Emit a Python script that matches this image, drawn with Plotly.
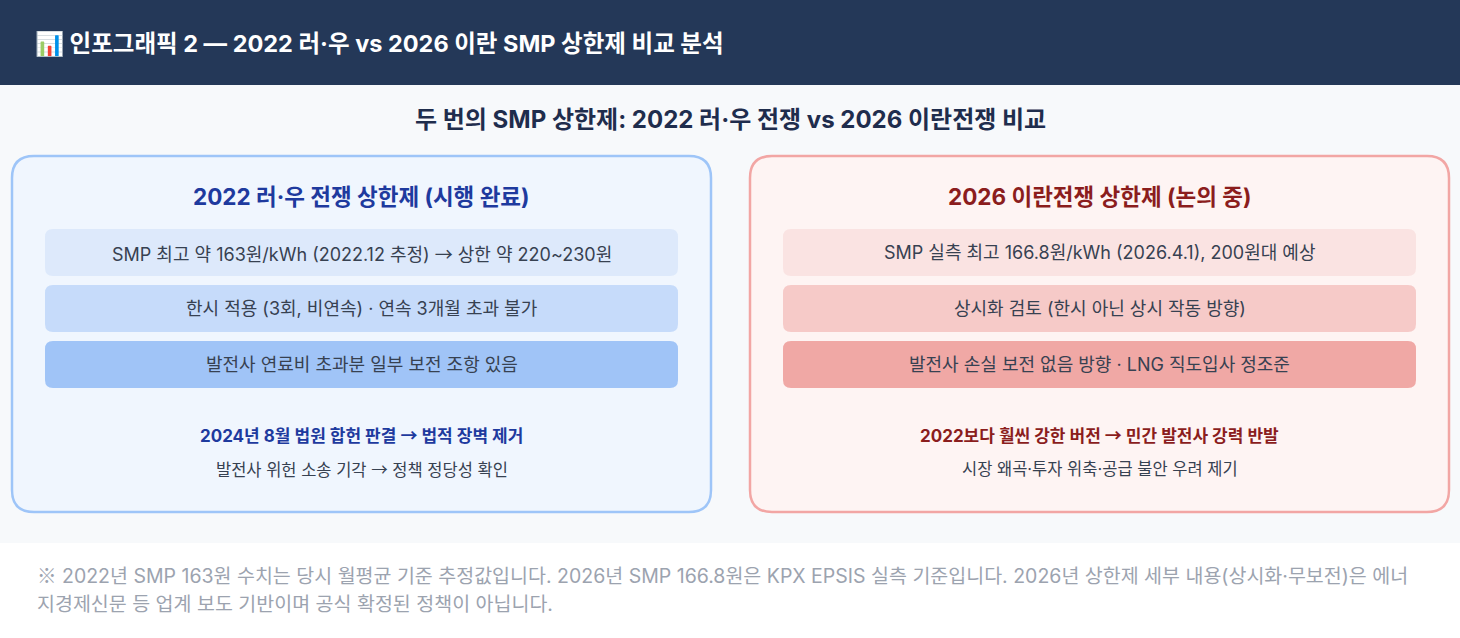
import plotly.graph_objects as go

W, H = 1460, 638
FONT = "Inter, Noto Sans CJK KR"

header_title = "📊 인포그래픽 2 — 2022 러·우 vs 2026 이란 SMP 상한제 비교 분석"
main_title = "두 번의 SMP 상한제: 2022 러·우 전쟁 vs 2026 이란전쟁 비교"

card_titles = ["2022 러·우 전쟁 상한제 (시행 완료)", "2026 이란전쟁 상한제 (논의 중)"]
card_rows = [
    ["SMP 최고 약 163원/kWh (2022.12 추정) → 상한 약 220~230원",
     "한시 적용 (3회, 비연속) · 연속 3개월 초과 불가",
     "발전사 연료비 초과분 일부 보전 조항 있음"],
    ["SMP 실측 최고 166.8원/kWh (2026.4.1), 200원대 예상",
     "상시화 검토 (한시 아닌 상시 작동 방향)",
     "발전사 손실 보전 없음 방향 · LNG 직도입사 정조준"],
]
card_notes = [
    "2024년 8월 법원 합헌 판결 → 법적 장벽 제거",
    "2022보다 훨씬 강한 버전 → 민간 발전사 강력 반발",
]
card_subnotes = [
    "발전사 위헌 소송 기각 → 정책 정당성 확인",
    "시장 왜곡·투자 위축·공급 불안 우려 제기",
]
footer_lines = [
    "※ 2022년 SMP 163원 수치는 당시 월평균 기준 추정값입니다. 2026년 SMP 166.8원은 KPX EPSIS 실측 기준입니다. 2026년 상한제 세부 내용(상시화·무보전)은 에너",
    "지경제신문 등 업계 보도 기반이며 공식 확정된 정책이 아닙니다.",
]

# styles
card_x = [(12, 711), (750, 1449)]
card_y = (156, 512)
card_border = ["#9ec5f8", "#f2a6a4"]
card_fill = ["#f0f6fe", "#fef4f3"]
title_color = ["#1e3a9e", "#8b1d1d"]
row_fill = [["#dde9fb", "#c6dbfa", "#a0c4f7"], ["#fae3e2", "#f6cac8", "#f0a8a5"]]
row_y = [(229, 276), (285, 332), (341, 388)]
row_pad = 33


def fmt(t):
    # render symbol glyphs with the CJK font (thin arrow, reference mark)
    cjk = "font-family:'Noto Sans CJK KR'"
    for ch in ("→", "※"):
        t = t.replace(ch, f"<span style=\"{cjk}\">{ch}</span>")
    return t


def rrect(x0, y0, x1, y1, r):
    return (f"M{x0+r},{y0} L{x1-r},{y0} Q{x1},{y0} {x1},{y0+r} "
            f"L{x1},{y1-r} Q{x1},{y1} {x1-r},{y1} L{x0+r},{y1} "
            f"Q{x0},{y1} {x0},{y1-r} L{x0},{y0+r} Q{x0},{y0} {x0+r},{y0} Z")


shapes = []
ann = []

# backgrounds
shapes.append(dict(type="rect", x0=0, x1=W, y0=0, y1=85, fillcolor="#243858", line_width=0, layer="below"))
shapes.append(dict(type="rect", x0=0, x1=W, y0=85, y1=543, fillcolor="#f7f9fb", line_width=0, layer="below"))
shapes.append(dict(type="rect", x0=0, x1=W, y0=543, y1=H, fillcolor="#ffffff", line_width=0, layer="below"))

ann.append(dict(x=33, y=43, text=header_title, xanchor="left", yanchor="middle", showarrow=False,
                font=dict(family=FONT, size=23.5, color="#ffffff", weight="bold")))
ann.append(dict(x=730, y=119, text=main_title, xanchor="center", yanchor="middle", showarrow=False,
                font=dict(family=FONT, size=24, color="#1f2d4d", weight="bold")))

for i in range(2):
    x0, x1 = card_x[i]
    cx = (x0 + x1) / 2
    shapes.append(dict(type="path", path=rrect(x0, card_y[0], x1, card_y[1], 22),
                       fillcolor=card_fill[i], line=dict(color=card_border[i], width=2.5)))
    ann.append(dict(x=cx, y=196, text=card_titles[i], xanchor="center", yanchor="middle", showarrow=False,
                    font=dict(family=FONT, size=22.5, color=title_color[i], weight="bold")))
    for j, txt in enumerate(card_rows[i]):
        ya, yb = row_y[j]
        shapes.append(dict(type="path", path=rrect(x0 + row_pad, ya, x1 - row_pad, yb, 8),
                           fillcolor=row_fill[i][j], line_width=0))
        ann.append(dict(x=cx, y=(ya + yb) / 2, text=fmt(txt), xanchor="center", yanchor="middle", showarrow=False,
                        font=dict(family=FONT, size=18, color="#374151")))
    ann.append(dict(x=cx, y=434, text=fmt(card_notes[i]), xanchor="center", yanchor="middle", showarrow=False,
                    font=dict(family=FONT, size=17, color=title_color[i], weight="bold")))
    ann.append(dict(x=cx, y=469, text=fmt(card_subnotes[i]), xanchor="center", yanchor="middle", showarrow=False,
                    font=dict(family=FONT, size=16.5, color="#374151")))

for k, line in enumerate(footer_lines):
    ann.append(dict(x=35, y=574 + k * 30, text=fmt(line), xanchor="left", yanchor="middle", showarrow=False,
                    font=dict(family=FONT, size=19.5, color="#9ca3af")))

fig = go.Figure()
fig.update_layout(
    width=W, height=H, margin=dict(l=0, r=0, t=0, b=0),
    paper_bgcolor="#ffffff", plot_bgcolor="#ffffff",
    xaxis=dict(range=[0, W], visible=False, fixedrange=True),
    yaxis=dict(range=[H, 0], visible=False, fixedrange=True),
    shapes=shapes, annotations=ann, showlegend=False,
)
fig.write_html("out.html", config={"displayModeBar": False, "staticPlot": True},
               post_script="document.body.style.margin='0';document.body.style.overflow='hidden';")
